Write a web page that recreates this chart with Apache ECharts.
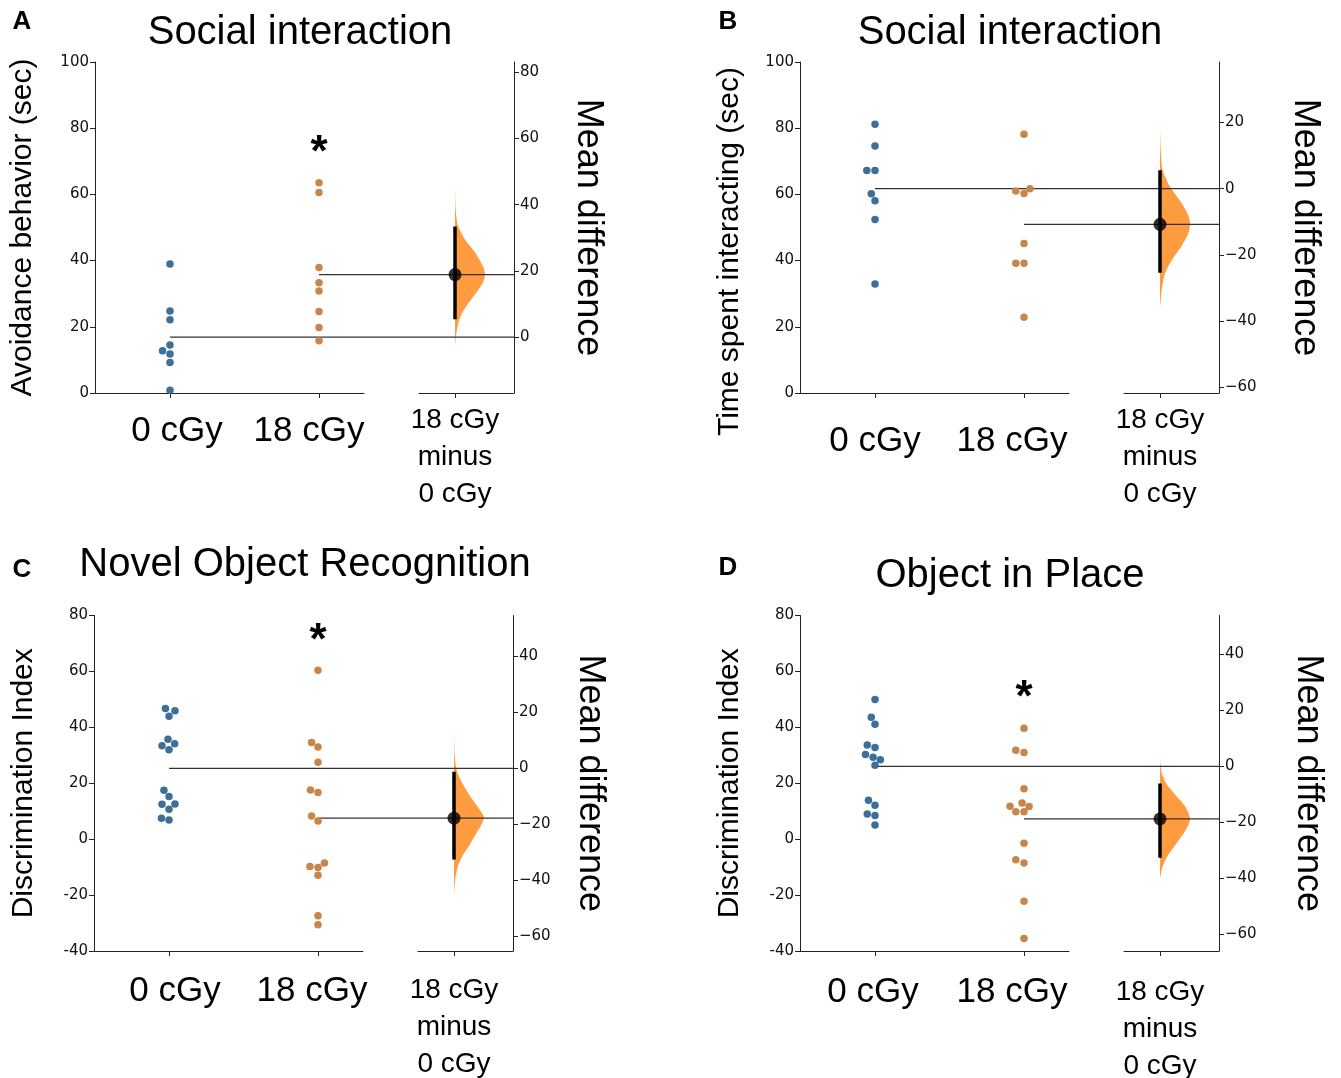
<!DOCTYPE html>
<html><head><meta charset="utf-8">
<script src="https://cdn.jsdelivr.net/npm/echarts@6/dist/echarts.min.js"></script>
<style>html,body{margin:0;padding:0;background:#fff}#c{width:1341px;height:1078px}</style>
</head><body><div id="c"></div>
<script>
// ---------- data ----------
const groups = ['0 cGy', '18 cGy'];
const diffLabel = '18 cGy\nminus\n0 cGy';
const titles = ['Social interaction', 'Social interaction', 'Novel Object Recognition', 'Object in Place'];
const letters = ['A', 'B', 'C', 'D'];
const yNames = ['Avoidance behavior (sec)', 'Time spent interacting (sec)', 'Discrimination Index', 'Discrimination Index'];
const rightName = 'Mean difference';

// Panel A
const A_ctrl = [39.0, 24.8, 22.1, 14.5, 12.8, 11.8, 9.2, 0.8];
const A_ctrl_off = [0, 0, 0, 0, -0.05, 0, 0, 0];
const A_irr = [63.5, 60.6, 37.9, 33.3, 30.8, 24.6, 19.8, 15.8];
const A_irr_off = [0, 0, 0, 0, 0, 0, 0, 0];
const A_ci = [5.4, 33.4];
const A_dens_y = [44.5, 37.4, 33.4, 29.4, 25.3, 21.3, 18.8, 16.3, 13.2, 10.2, 7.2, 4.2, 0.1, -2.4];
const A_dens_w = [0, 0.03, 0.11, 0.34, 0.69, 0.94, 1.0, 0.92, 0.69, 0.44, 0.23, 0.11, 0.03, 0];
const A_star = [74.7];
const A_left_range = [0, 100];
const A_right_ticks = [0, 20, 40, 60, 80];

// Panel B
const B_ctrl = [81.2, 74.6, 67.2, 67.2, 60.2, 58.1, 52.4, 32.9];
const B_ctrl_off = [0, 0, -0.055, 0, -0.025, 0, 0, 0];
const B_irr = [78.2, 61.7, 61.0, 60.3, 45.2, 39.2, 39.2, 22.9];
const B_irr_off = [0, 0.04, -0.055, 0, 0, -0.055, 0, 0];
const B_ci = [-25.4, 5.6];
const B_dens_y = [18.2, 10.6, 5.6, 0.5, -4.5, -8.5, -10.7, -13.6, -17.6, -21.6, -25.6, -29.7, -36.0];
const B_dens_w = [0, 0.03, 0.09, 0.34, 0.73, 0.96, 1, 0.94, 0.70, 0.39, 0.17, 0.07, 0];
const B_star = [];
const B_left_range = [0, 100];
const B_right_ticks = [-60, -40, -20, 0, 20];

// Panel C
const C_ctrl = [46.7, 45.9, 44.0, 35.7, 33.4, 34.1, 32.0, 17.5, 15.3, 12.5, 12.6, 10.7, 7.5, 6.9];
const C_ctrl_off = [-0.024, 0.04, 0, -0.007, -0.047, 0.038, 0, -0.034, 0, -0.047, 0.04, 0, -0.051, 0];
const C_irr = [60.4, 34.6, 33.0, 27.5, 17.6, 16.7, 8.3, 6.5, -9.8, -10.1, -8.5, -12.9, -27.4, -30.6];
const C_irr_off = [0, -0.043, 0, 0, -0.051, 0, -0.043, 0, -0.054, 0, 0.043, 0, 0, 0];
const C_ci = [-32.6, -1.2];
const C_dens_y = [11.7, 3.3, -1.5, -6.3, -11.1, -15.3, -17.6, -20.65, -24.2, -27.8, -31.4, -35.0, -39.8, -45.8];
const C_dens_w = [0, 0.03, 0.11, 0.33, 0.61, 0.89, 1, 0.89, 0.69, 0.5, 0.28, 0.13, 0.04, 0];
const C_star = [73.3];
const C_left_range = [-40, 80];
const C_right_ticks = [-60, -40, -20, 0, 20, 40];

// Panel D
const D_ctrl = [50.0, 43.6, 41.1, 33.7, 32.8, 30.3, 29.3, 28.4, 26.4, 13.9, 12.1, 9.0, 8.5, 5.1];
const D_ctrl_off = [0, -0.025, 0, -0.052, 0, -0.064, -0.013, 0.036, 0, -0.044, 0, -0.052, 0, 0];
const D_irr = [39.7, 31.8, 31.0, 18.0, 12.9, 11.8, 11.7, 9.8, 9.8, -1.5, -7.4, -8.5, -22.2, -35.5];
const D_irr_off = [0, -0.055, 0, 0, -0.013, -0.094, 0.034, -0.055, 0, 0, -0.055, 0, 0, 0];
const D_ci = [-32.7, -6.1];
const D_dens_y = [2.2, -2, -6, -10, -14, -18.6, -22, -26, -30, -33, -36, -40];
const D_dens_w = [0, 0.05, 0.2, 0.5, 0.82, 1, 0.9, 0.65, 0.38, 0.2, 0.08, 0];
const D_star = [53.1];
const D_left_range = [-40, 80];
const D_right_ticks = [-60, -40, -20, 0, 20, 40];

// ---------- layout / style ----------
const panels = [
  {ctrl:A_ctrl, ctrlOff:A_ctrl_off, irr:A_irr, irrOff:A_irr_off, ci:A_ci, dy:A_dens_y, dw:A_dens_w, star:A_star, lr:A_left_range, rt:A_right_ticks},
  {ctrl:B_ctrl, ctrlOff:B_ctrl_off, irr:B_irr, irrOff:B_irr_off, ci:B_ci, dy:B_dens_y, dw:B_dens_w, star:B_star, lr:B_left_range, rt:B_right_ticks},
  {ctrl:C_ctrl, ctrlOff:C_ctrl_off, irr:C_irr, irrOff:C_irr_off, ci:C_ci, dy:C_dens_y, dw:C_dens_w, star:C_star, lr:C_left_range, rt:C_right_ticks},
  {ctrl:D_ctrl, ctrlOff:D_ctrl_off, irr:D_irr, irrOff:D_irr_off, ci:D_ci, dy:D_dens_y, dw:D_dens_w, star:D_star, lr:D_left_range, rt:D_right_ticks}
];
// s0 / s1: horizontal nudges of the two group labels (px, +right)
const layouts = [
  {L:95,  top:62,    bottom:393, tx:300,  ty:33,  lx:22,  ly:22,  xm:21, dm:9,  lg:57, rg:56, lpad:0, s0:7,  s1:-10},
  {L:800, top:62,    bottom:393, tx:1010, ty:33,  lx:728, ly:22,  xm:31, dm:9,  lg:55, rg:68, lpad:48, s0:0, s1:-12},
  {L:94,  top:615.5, bottom:951, tx:305,  ty:565, lx:22,  ly:570, xm:23, dm:21, lg:55, rg:59, lpad:0, s0:6,  s1:-6},
  {L:800, top:615.5, bottom:951, tx:1010, ty:576, lx:728, ly:568, xm:24, dm:23, lg:55, rg:71, lpad:0, s0:-2, s1:-12}
];
const BLUE = '#3e6f99', ORANGE = '#c8864a', VIOLIN = '#ff9c3f';
const SANS = 'Liberation Sans, Arial, sans-serif';
const TICKF = 'DejaVu Sans, sans-serif';
const AX = {color:'#222', width:1};
const U = 149;  // px between groups
const VU = 30;  // px per unit of violin width

const mean = a => a.reduce((s, v) => s + v, 0) / a.length;
const pad = s => s >= 0 ? [0, 0, 0, 2 * s] : [0, -2 * s, 0, 0];

const grids = [], xAxes = [], yAxes = [], series = [], graphics = [];

panels.forEach((p, k) => {
  const g = layouts[k];
  const L = g.L, R = L + 419, top = g.top, h = g.bottom - g.top;
  const m0 = mean(p.ctrl), m1 = mean(p.irr), md = m1 - m0;
  const gi = grids.length;
  const ov = gi, ms = gi + 1, df = gi + 2;
  grids.push({left:L, top:top, width:R - L, height:h, outerBoundsMode:'none', containLabel:false});
  grids.push({left:L, top:top, width:269, height:h, outerBoundsMode:'none', containLabel:false});
  grids.push({left:L + 324, top:top, width:95, height:h, outerBoundsMode:'none', containLabel:false});
  const ovMax = 344 / U;
  const labStyle = {fontSize:35, color:'#000', fontFamily:SANS};

  xAxes.push({gridIndex:ov, type:'value', min:-75 / U, max:ovMax, show:false});
  xAxes.push({gridIndex:ms, type:'value', min:-75 / U, max:194 / U,
    axisLine:{show:true, onZero:false, lineStyle:AX},
    axisTick:{show:true, customValues:[0, 1], length:5, lineStyle:AX},
    axisLabel:{show:true, customValues:[0, 1], margin:g.xm,
      formatter:v => Math.round(v) === 0 ? '{a|' + groups[0] + '}' : '{b|' + groups[1] + '}',
      rich:{a:Object.assign({padding:pad(g.s0)}, labStyle), b:Object.assign({padding:pad(g.s1)}, labStyle)}},
    splitLine:{show:false}});
  xAxes.push({gridIndex:df, type:'value', min:-36 / VU, max:59 / VU,
    axisLine:{show:true, onZero:false, lineStyle:AX},
    axisTick:{show:true, customValues:[0], length:5, lineStyle:AX},
    axisLabel:{show:true, customValues:[0], formatter:() => diffLabel, fontSize:28, lineHeight:37, margin:g.dm, color:'#000', fontFamily:SANS},
    splitLine:{show:false}});

  yAxes.push({gridIndex:ov, type:'value', min:p.lr[0], max:p.lr[1], interval:20, position:'left',
    axisLine:{show:true, onZero:false, lineStyle:AX},
    axisTick:{show:true, length:5, lineStyle:AX},
    axisLabel:{fontSize:15, color:'#111', fontFamily:TICKF, margin:6},
    splitLine:{show:false},
    name:yNames[k], nameLocation:'middle', nameGap:g.lg, nameRotate:90,
    nameTextStyle:{fontSize:30, color:'#000', fontFamily:SANS, padding:[0, g.lpad, 0, 0]}});
  yAxes.push({gridIndex:ms, type:'value', min:p.lr[0], max:p.lr[1], show:false});
  yAxes.push({gridIndex:df, type:'value', min:p.lr[0] - m0, max:p.lr[1] - m0, position:'right',
    axisLine:{show:true, onZero:false, lineStyle:AX},
    axisTick:{show:true, customValues:p.rt, length:5, lineStyle:AX},
    axisLabel:{show:true, customValues:p.rt, formatter:v => String(v).replace('-', '\u2212'), fontSize:15, color:'#111', fontFamily:TICKF, margin:6},
    splitLine:{show:false},
    name:rightName, nameLocation:'middle', nameGap:g.rg, nameRotate:-90,
    nameTextStyle:{fontSize:36, color:'#000', fontFamily:SANS}});

  // violin (half)
  series.push({type:'custom', xAxisIndex:df, yAxisIndex:df, data:[[0, md]], z:1, silent:true, clip:false,
    renderItem:(params, api) => {
      const pts = [];
      p.dy.forEach((y, i) => pts.push(api.coord([p.dw[i], y])));
      for (let i = p.dy.length - 1; i >= 0; i--) pts.push(api.coord([0, p.dy[i]]));
      return {type:'polygon', shape:{points:pts, smooth:0.25}, style:{fill:VIOLIN}};
    }});
  // mean lines
  series.push({type:'line', xAxisIndex:ov, yAxisIndex:ov, data:[[0, m0], [ovMax, m0]], symbol:'none', silent:true,
    lineStyle:{color:'#333', width:1.2}, z:3});
  series.push({type:'line', xAxisIndex:ov, yAxisIndex:ov, data:[[1, m1], [ovMax, m1]], symbol:'none', silent:true,
    lineStyle:{color:'#333', width:1.2}, z:3});
  // CI
  series.push({type:'line', xAxisIndex:df, yAxisIndex:df, data:[[0, p.ci[0]], [0, p.ci[1]]], symbol:'none', silent:true,
    lineStyle:{color:'#000', width:3.5}, z:4});
  series.push({type:'scatter', xAxisIndex:df, yAxisIndex:df, data:[[0, md]], symbolSize:13, itemStyle:{color:'#000'}, z:5, silent:true});
  // swarms
  series.push({type:'scatter', xAxisIndex:ov, yAxisIndex:ov, data:p.ctrl.map((v, i) => [p.ctrlOff[i], v]),
    symbolSize:7.5, itemStyle:{color:BLUE, opacity:1}, z:6, silent:true});
  series.push({type:'scatter', xAxisIndex:ov, yAxisIndex:ov, data:p.irr.map((v, i) => [1 + p.irrOff[i], v]),
    symbolSize:7.5, itemStyle:{color:ORANGE, opacity:1}, z:6, silent:true});
  // significance asterisk, placed through the axes
  if (p.star.length) {
    series.push({type:'custom', xAxisIndex:ov, yAxisIndex:ov, data:p.star.map(v => [1, v]), z:7, silent:true, clip:false,
      renderItem:(params, api) => {
        const c = api.coord([api.value(0), api.value(1)]);
        return {type:'text', x:c[0], y:c[1] + 8,
          style:{text:'*', fill:'#000', font:'bold 44px Liberation Sans, Arial, sans-serif', textAlign:'center', textVerticalAlign:'middle'}};
      }});
  }
  // title + letter
  graphics.push({type:'text', x:g.tx, y:g.ty, style:{text:titles[k], fill:'#000', font:'40px ' + SANS, textAlign:'center', textVerticalAlign:'middle'}});
  graphics.push({type:'text', x:g.lx, y:g.ly, style:{text:letters[k], fill:'#000', font:'bold 26px ' + SANS, textAlign:'center', textVerticalAlign:'middle'}});
});

const chart = echarts.init(document.getElementById('c'), null, {renderer:'canvas'});
chart.setOption({
  animation:false,
  backgroundColor:'#fff',
  grid:grids, xAxis:xAxes, yAxis:yAxes, series:series, graphic:graphics
});
</script></body></html>
